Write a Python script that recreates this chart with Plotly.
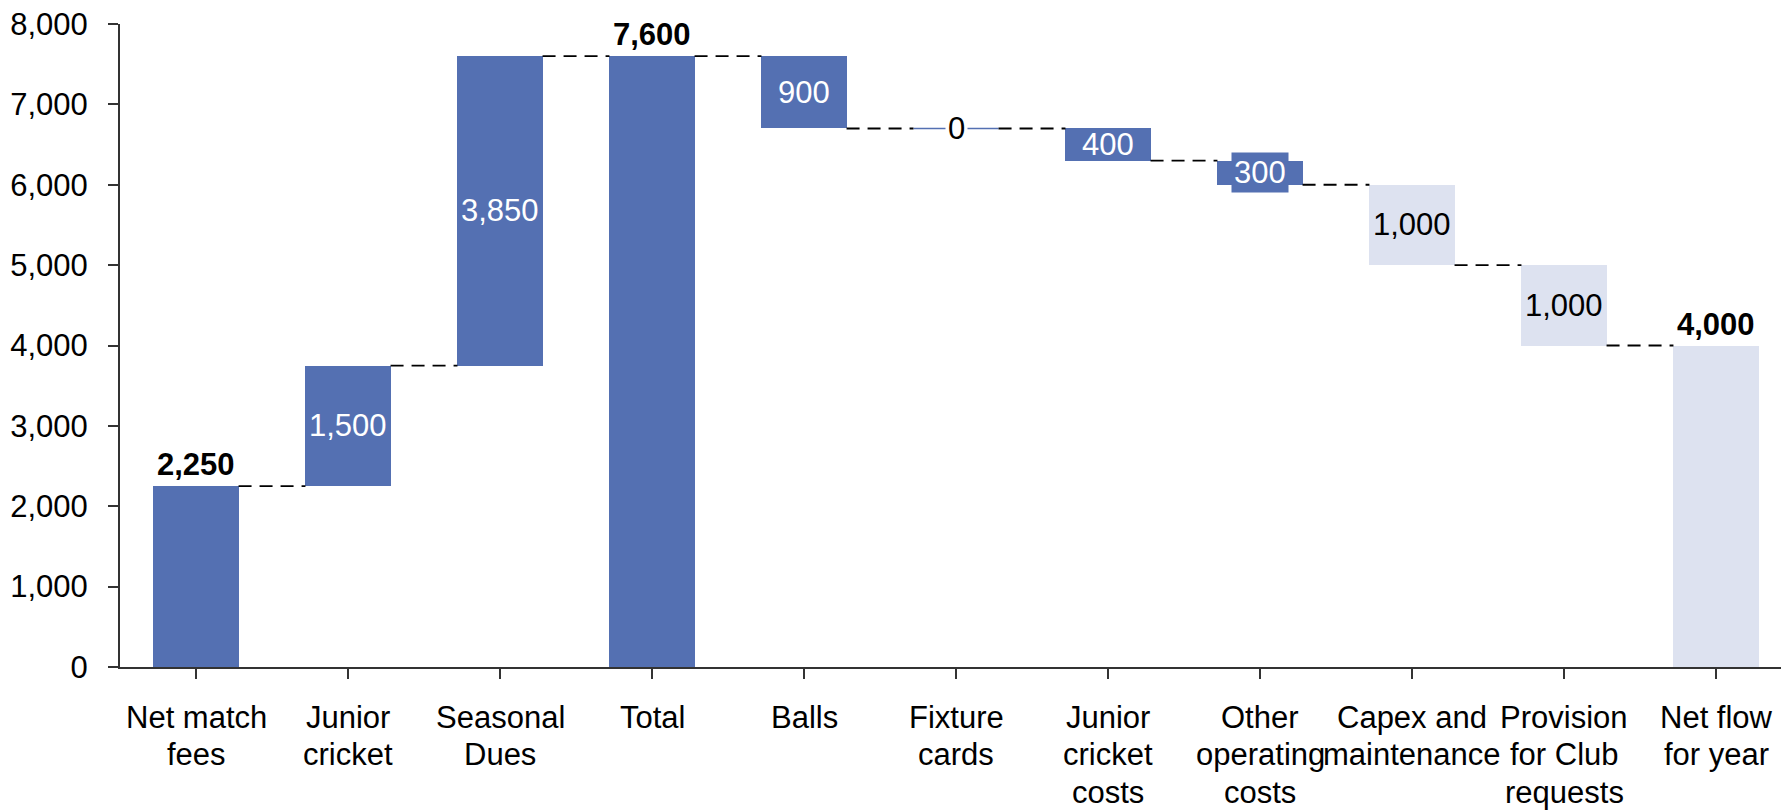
import plotly.graph_objects as go

# Club cash flow for the year: income items, total, cost items, net result
categories = [
    "Net match<br>fees", "Junior<br>cricket", "Seasonal<br>Dues", "Total", "Balls",
    "Fixture<br>cards", "Junior<br>cricket<br>costs", "Other<br>operating<br>costs",
    "Capex and<br>maintenance", "Provision<br>for Club<br>requests", "Net flow<br>for year",
]
# kind: "total" bars start at zero, "inc" adds to the running level, "dec" subtracts
kinds = ["total", "inc", "inc", "total", "dec", "dec", "dec", "dec", "dec", "dec", "total"]
values = [2250, 1500, 3850, 7600, 900, 0, 400, 300, 1000, 1000, 4000]

DARK = "rgb(84,112,178)"
LIGHT = "rgb(221,226,240)"
bar_colors = [DARK] * 8 + [LIGHT, LIGHT, LIGHT]
label_colors = ["black", "white", "white", "black", "white", "black",
                "white", "white", "black", "black", "black"]
label_bg = [None, None, None, None, None, "white", None, DARK, None, None, None]

BAR_W = 0.56
FONT = "Liberation Sans, Arial, sans-serif"
FS = 31
LINE_GAP = 37.5      # px between lines of a category label
FIRST_LINE = 50      # px from the x axis to the middle of the first label line

# Running level -> bar base and height
bases, heights, ends = [], [], []
level = 0
for k, v in zip(kinds, values):
    if k == "total":
        base, h = 0, v
        level = v
    elif k == "inc":
        base, h = level, v
        level += v
    else:
        base, h = level - v, v
        level -= v
    bases.append(base)
    heights.append(h)
    ends.append(level)

xs = list(range(len(categories)))

fig = go.Figure(go.Bar(
    x=xs, y=heights, base=bases, width=BAR_W,
    marker=dict(color=bar_colors, line=dict(width=0)),
    hoverinfo="skip",
))

shapes = []
annotations = []
for i, (k, v, b, h, e) in enumerate(zip(kinds, values, bases, heights, ends)):
    # zero-valued items are shown as a thin line at the running level
    if h == 0:
        shapes.append(dict(type="line", xref="x", yref="y",
                           x0=i - BAR_W / 2, x1=i + BAR_W / 2, y0=b, y1=b,
                           line=dict(color=bar_colors[i], width=1.5), layer="below"))
    # dashed connector to the next bar
    if i < len(xs) - 1:
        shapes.append(dict(type="line", xref="x", yref="y",
                           x0=i + BAR_W / 2, x1=i + 1 - BAR_W / 2, y0=e, y1=e,
                           line=dict(color="black", width=1.8, dash="13px,8px")))
    text = f"{v:,}"
    if k == "total":
        annotations.append(dict(x=i, y=b + h, xref="x", yref="y", text=f"<b>{text}</b>",
                                showarrow=False, yanchor="bottom", yshift=2,
                                font=dict(family=FONT, size=FS, color=label_colors[i])))
    else:
        annotations.append(dict(x=i, y=b + h / 2, xref="x", yref="y", text=text,
                                showarrow=False, yanchor="middle",
                                bgcolor=label_bg[i], borderpad=2 if label_bg[i] else 0,
                                font=dict(family=FONT, size=FS, color=label_colors[i])))

# Category labels under the axis, one text per line for tight line spacing
for i, cat in enumerate(categories):
    for j, line in enumerate(cat.split("<br>")):
        annotations.append(dict(x=i, y=0, xref="x", yref="paper", text=line,
                                showarrow=False, yanchor="middle", xanchor="center",
                                yshift=-(FIRST_LINE + j * LINE_GAP),
                                font=dict(family=FONT, size=FS, color="black")))

fig.update_layout(
    width=1781, height=811,
    margin=dict(l=120, r=0, t=24, b=144),
    plot_bgcolor="white", paper_bgcolor="white",
    showlegend=False,
    bargap=0,
    font=dict(family=FONT, size=FS, color="black"),
    shapes=shapes,
    annotations=annotations,
    xaxis=dict(
        tickmode="array", tickvals=xs, showticklabels=False,
        range=[-0.5, -0.5 + 1661 / 152],
        tickson="boundaries", ticks="outside", ticklen=10, tickwidth=2,
        tickcolor="#333333", showline=True, linecolor="#333333", linewidth=2,
        showgrid=False, zeroline=False, automargin=False,
    ),
    yaxis=dict(
        range=[0, 8000], tickvals=[0, 1000, 2000, 3000, 4000, 5000, 6000, 7000, 8000],
        tickformat=",d", ticks="outside", ticklen=10, tickwidth=2, tickcolor="#333333",
        showline=True, linecolor="#333333", linewidth=2,
        showgrid=False, zeroline=False, ticklabelstandoff=14, automargin=False,
        tickfont=dict(family=FONT, size=FS, color="black"),
    ),
)

fig.write_html("out.html")
